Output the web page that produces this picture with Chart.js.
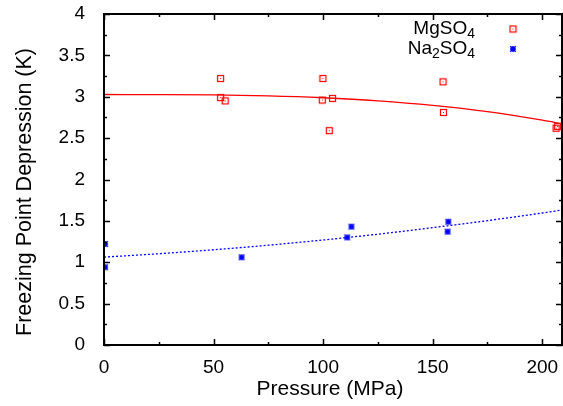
<!DOCTYPE html>
<html>
<head>
<meta charset="utf-8">
<script src="https://cdn.jsdelivr.net/npm/chart.js@4.4.1/dist/chart.umd.min.js"></script>
<style>
  html, body { margin: 0; padding: 0; background: #fff; }
  #wrap { width: 563px; height: 406px; }
</style>
</head>
<body>
<div id="wrap"><canvas id="myChart" width="563" height="406"></canvas></div>
<script>
// measured points
const mgPressure = [53.2, 53.2, 55.3, 99.9, 99.6, 104.3, 102.8, 154.7, 154.9, 207.0, 206.3];
const mgDepression = [3.22, 2.99, 2.95, 3.22, 2.96, 2.98, 2.59, 3.18, 2.81, 2.64, 2.62];
const naPressure = [0.5, 0.5, 62.8, 111.0, 112.9, 156.8, 157.1];
const naDepression = [1.22, 0.94, 1.06, 1.30, 1.43, 1.37, 1.49];

// fit curves
const fitPressure = [0, 25, 50, 75, 100, 125, 150, 175, 200, 209];
const mgFit = [3.027, 3.026, 3.022, 3.011, 2.988, 2.951, 2.896, 2.82, 2.717, 2.674];
const naFit = [1.062, 1.103, 1.151, 1.206, 1.269, 1.339, 1.418, 1.503, 1.595, 1.631];

const xTicks = [0, 50, 100, 150, 200];
const yTicks = [0, 0.5, 1, 1.5, 2, 2.5, 3, 3.5, 4];

const FONT = "'Liberation Sans', Arial, sans-serif";
const ctx = document.getElementById("myChart");

const toXY = (xs, ys) => xs.map((x, i) => ({ x: x, y: ys[i] }));

// point markers (gnuplot-ish)
const mgMarker = document.createElement("canvas");
mgMarker.width = 9;
mgMarker.height = 9;
{
  const c = mgMarker.getContext("2d");
  c.strokeStyle = "#ff0000";
  c.lineWidth = 1.2;
  c.strokeRect(1.5, 1.5, 6, 6);
  c.fillStyle = "#ff0000";
  c.fillRect(4, 4, 1, 1);
}
const naMarker = document.createElement("canvas");
naMarker.width = 8;
naMarker.height = 8;
{
  const c = naMarker.getContext("2d");
  c.strokeStyle = "#0000ff";
  c.lineWidth = 1.6;
  c.beginPath();
  c.moveTo(1, 4); c.lineTo(7, 4);
  c.moveTo(4, 1); c.lineTo(4, 7);
  c.moveTo(1.3, 1.3); c.lineTo(6.7, 6.7);
  c.moveTo(6.7, 1.3); c.lineTo(1.3, 6.7);
  c.stroke();
}

// box frame with inward ticks, like gnuplot
const frame = {
  id: "frame",
  afterDatasetsDraw(chart) {
    const c = chart.ctx;
    const a = chart.chartArea;
    const xs = chart.scales.x;
    const ys = chart.scales.y;
    c.save();
    c.strokeStyle = "#000";
    c.lineWidth = 1.5;
    c.beginPath();
    for (let v = 0; v <= 209; v += 25) {
      const px = Math.round(xs.getPixelForValue(v)) + 0.5;
      const len = v % 50 === 0 ? 6 : 3;
      c.moveTo(px, a.bottom); c.lineTo(px, a.bottom - len);
      c.moveTo(px, a.top); c.lineTo(px, a.top + len);
    }
    for (let v = 0; v <= 4; v += 0.25) {
      const py = Math.round(ys.getPixelForValue(v)) + 0.5;
      const len = (v * 2) % 1 === 0 ? 6 : 3;
      c.moveTo(a.left, py); c.lineTo(a.left + len, py);
      c.moveTo(a.right, py); c.lineTo(a.right - len, py);
    }
    c.stroke();
    c.lineWidth = 2;
    c.strokeRect(a.left, a.top, a.right - a.left, a.bottom - a.top);

    // axis titles
    c.fillStyle = "#000";
    c.font = "21px " + FONT;
    c.textAlign = "center";
    c.textBaseline = "middle";
    c.fillText("Pressure (MPa)", 330, 389);
    c.font = "21.5px " + FONT;
    c.translate(25, 192);
    c.rotate(-Math.PI / 2);
    c.fillText("Freezing Point Depression (K)", 0, 0);
    c.restore();
  },
};

// legend with subscripts
const legendRows = [
  { parts: [["MgSO", false], ["4", true]], marker: mgMarker, y: 29 },
  { parts: [["Na", false], ["2", true], ["SO", false], ["4", true]], marker: naMarker, y: 49 },
];
const legend = {
  id: "subLegend",
  afterDraw(chart) {
    const c = chart.ctx;
    c.save();
    c.fillStyle = "#000";
    c.textBaseline = "middle";
    c.textAlign = "left";
    legendRows.forEach((row) => {
      let total = 0;
      row.parts.forEach(([t, sub]) => {
        c.font = (sub ? "14px " : "19px ") + FONT;
        total += c.measureText(t).width;
      });
      let x = 475 - total;
      row.parts.forEach(([t, sub]) => {
        c.font = (sub ? "14px " : "19px ") + FONT;
        c.fillText(t, x, sub ? row.y + 5 : row.y);
        x += c.measureText(t).width;
      });
      c.drawImage(row.marker, 513 - row.marker.width / 2, row.y - row.marker.height / 2);
    });
    c.restore();
  },
};

new Chart(ctx, {
  type: "scatter",
  data: {
    datasets: [
      {
        label: "MgSO₄",
        data: toXY(mgPressure, mgDepression),
        pointStyle: mgMarker,
        pointRadius: 4,
        clip: 0,
        order: 1,
      },
      {
        label: "Na₂SO₄",
        data: toXY(naPressure, naDepression),
        pointStyle: naMarker,
        pointRadius: 4,
        clip: 0,
        order: 1,
      },
      {
        label: "MgSO₄ fit",
        type: "line",
        data: toXY(fitPressure, mgFit),
        borderColor: "#ff0000",
        borderWidth: 1.3,
        pointRadius: 0,
        cubicInterpolationMode: "monotone",
        clip: 0,
        order: 2,
      },
      {
        label: "Na₂SO₄ fit",
        type: "line",
        data: toXY(fitPressure, naFit),
        borderColor: "#0000ff",
        borderWidth: 1.3,
        borderDash: [2, 2],
        pointRadius: 0,
        cubicInterpolationMode: "monotone",
        clip: 0,
        order: 2,
      },
    ],
  },
  options: {
    responsive: false,
    animation: false,
    layout: { autoPadding: false, padding: { top: 14, right: 1, bottom: 0, left: 0 } },
    plugins: {
      legend: { display: false },
      tooltip: { enabled: false },
    },
    scales: {
      x: {
        type: "linear",
        min: 0,
        max: 209,
        afterBuildTicks: (scale) => {
          scale.ticks = xTicks.map((v) => ({ value: v }));
        },
        afterFit: (scale) => {
          scale.height = 61;
          scale.paddingLeft = 0;
          scale.paddingRight = 0;
        },
        grid: { display: false },
        border: { display: false },
        ticks: {
          color: "#000",
          font: { family: FONT, size: 19 },
          padding: 3,
          maxRotation: 0,
        },
      },
      y: {
        type: "linear",
        min: 0,
        max: 4,
        afterBuildTicks: (scale) => {
          scale.ticks = yTicks.map((v) => ({ value: v }));
        },
        afterFit: (scale) => {
          scale.width = 104;
          scale.paddingTop = 0;
          scale.paddingBottom = 0;
        },
        grid: { display: false },
        border: { display: false },
        ticks: {
          color: "#000",
          font: { family: FONT, size: 19 },
          padding: 11,
          callback: (v) => String(v),
        },
      },
    },
  },
  plugins: [frame, legend],
});
</script>
</body>
</html>
